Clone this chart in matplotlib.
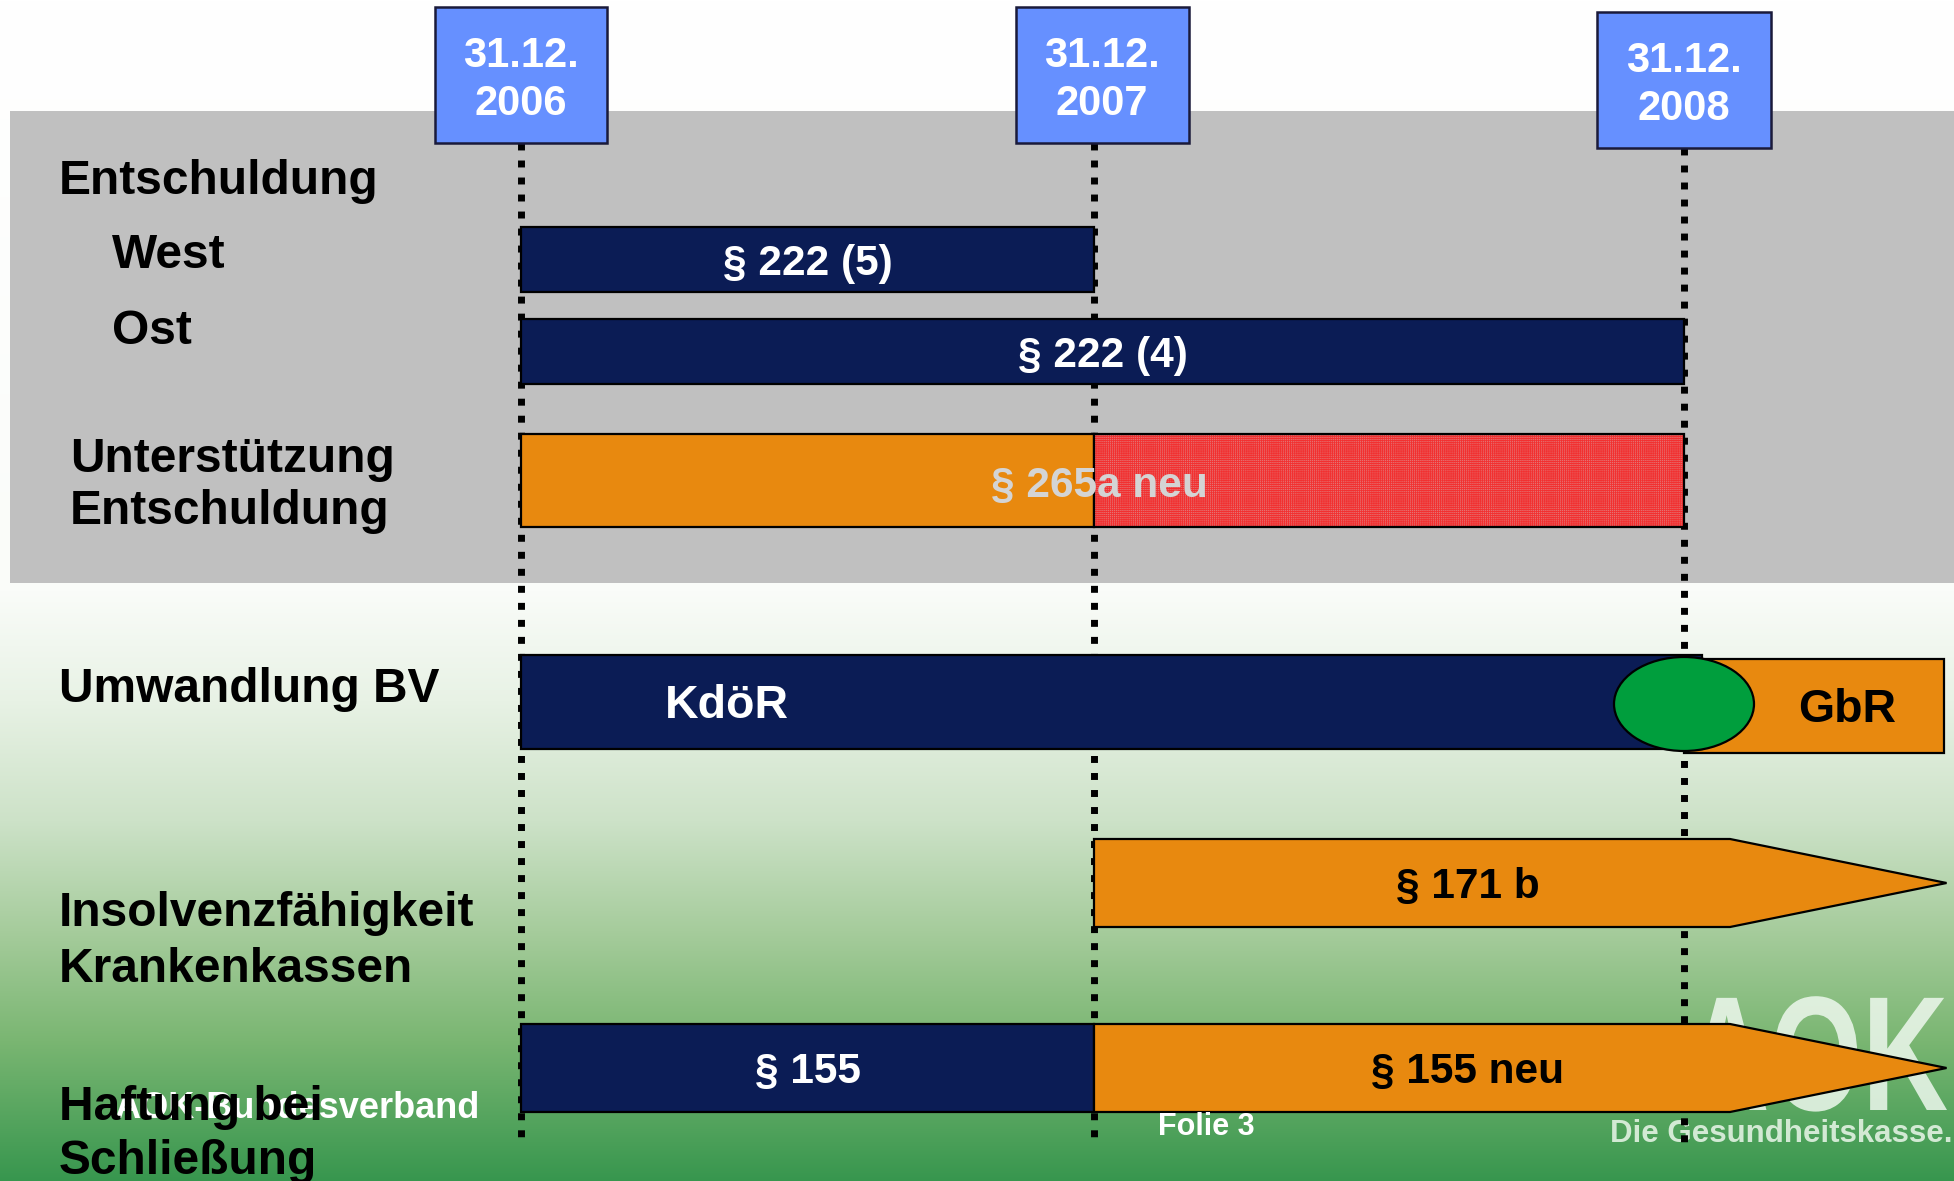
"""Timeline slide: Entschuldung / Umwandlung / Insolvenzfaehigkeit / Haftung."""
import matplotlib
matplotlib.use("Agg")

import numpy as np
import matplotlib.pyplot as plt
from matplotlib.patches import Rectangle, Polygon, Ellipse, PathPatch
from matplotlib.textpath import TextPath
from matplotlib.font_manager import FontProperties
from matplotlib.transforms import Affine2D

# --- data -----------------------------------------------------------------
MILESTONES = [2006, 2007, 2008]
MILESTONE_LABELS = ["31.12.\n2006", "31.12.\n2007", "31.12.\n2008"]

ROW_LABELS = [
    "Entschuldung", "West", "Ost", "Unterstützung\nEntschuldung",
    "Umwandlung BV", "Insolvenzfähigkeit\nKrankenkassen", "Haftung bei\nSchließung",
]

# bar segments (one entry per segment)
SEG_ROW = ["West", "Ost", "Unterst", "Unterst", "BV", "BV", "Insolvenz", "Haftung", "Haftung"]
SEG_START = [2006, 2006, 2006, 2007, 2006, 2008, 2007, 2006, 2007]
SEG_END = [2007, 2008, 2007, 2008, 2008.03, 2008.44, 2008.445, 2007, 2008.445]
SEG_KIND = ["navy", "navy", "orange", "hatch", "navy", "orange", "arrow", "navy", "arrow"]
SEG_TEXT = ["§ 222 (5)", "§ 222 (4)", "", "", "KdöR", "GbR", "§ 171 b", "§ 155", "§ 155 neu"]
SEG_TEXT_AT = [2006.5, 2007.015, None, None, 2006.36, 2008.276, 2007.634, 2006.5, 2007.634]
SEG_TEXT_COLOR = ["white", "white", None, None, "white", "black", "black", "white", "black"]

TRANSITION_YEAR = 2008   # green marker KdöR -> GbR
ARROW_SHOULDER = 2008.078
OVERLAY_TEXT = "§ 265a neu"
OVERLAY_AT = 2007.01

# --- layout ---------------------------------------------------------------
W, H = 1954, 1181
# where the milestones sit on the slide (pixels); the slide is not evenly spaced
ANCHOR_YEARS = [2004, 2006, 2007, 2008, 2010]
ANCHOR_PX = [521 - 2 * 573, 521, 1094, 1684, 1684 + 2 * 590]
ROW_Y = {  # top, bottom in pixels
    "West": (227, 292), "Ost": (319, 384), "Unterst": (434, 527),
    "BV": (655, 749), "Insolvenz": (839, 927), "Haftung": (1024, 1112),
}
LABEL_POS = [(59, [181]), (112, [256]), (112, [331]), (70, [459, 511]),
             (59, [689]), (59, [913, 970]), (59, [1107, 1161])]
BOX_TOPS = [7, 7, 12]
BOX_SHIFT = [0, 8, 0]
BOX_W, BOX_H = 173, 136
LINE_END = 1143

NAVY = "#0B1C55"
ORANGE = "#E8890F"
BOX_BLUE = "#6690FF"
GRAY = "#C0C0C0"
GREEN = "#009E3D"
FONT = "Liberation Sans"


def fwd(x):
    return np.interp(x, ANCHOR_YEARS, ANCHOR_PX)


def inv(p):
    return np.interp(p, ANCHOR_PX, ANCHOR_YEARS)


fig = plt.figure(figsize=(W / 100, H / 100), dpi=100)
PX = Affine2D().scale(1.0 / W, -1.0 / H).translate(0, 1) + fig.transFigure

# background gradient (white -> green)
bg = fig.add_axes([0, 0, 1, 1], zorder=0)
bg.set_axis_off()
stops_y = [0, 590, 700, 820, 930, 1040, 1181]
stops_c = np.array([[255, 255, 255], [250, 252, 249], [232, 242, 229], [205, 226, 200],
                    [166, 204, 156], [122, 182, 114], [55, 150, 78]]) / 255.0
yy = np.arange(H)
grad = np.stack([np.interp(yy, stops_y, stops_c[:, k]) for k in range(3)], axis=-1)
bg.imshow(grad[:, None, :], extent=(0, 1, 1, 0), aspect="auto")
bg.set_xlim(0, 1)
bg.set_ylim(1, 0)

ax = fig.add_axes([0, 0, 1, 1], zorder=1)
ax.patch.set_alpha(0)
ax.set_xscale("function", functions=(fwd, inv))
ax.set_xlim(inv(0), inv(W))
ax.set_ylim(H, 0)
ax.set_axis_off()

ax.add_patch(Rectangle((10, 111), W - 10, 472, transform=PX, facecolor=GRAY,
                       edgecolor="none", zorder=1))

# AOK logo (background watermark), letters squeezed horizontally
fp = FontProperties(family=FONT, weight="bold")
logo = TextPath((0, 0), "AOK", size=163, prop=fp)
lw_ = logo.get_extents().x1
logo_tr = Affine2D().scale(0.73, -1.0).translate(1947 - 0.73 * lw_, 1110) + PX
ax.add_patch(PathPatch(logo, transform=logo_tr, facecolor="#EEF8EE", edgecolor="none",
                       alpha=0.85, zorder=2))
ax.text(1952, 1134, "Die Gesundheitskasse.", transform=PX, ha="right", va="center",
        fontsize=22.5, fontweight="bold", family=FONT, color="#E2F2E2", alpha=0.9, zorder=2)

# milestone lines and date boxes
for m, lab, top, dx in zip(MILESTONES, MILESTONE_LABELS, BOX_TOPS, BOX_SHIFT):
    ax.plot([m, m], [top + BOX_H, LINE_END], color="black", lw=5,
            linestyle=(0, (1, 1.45)), dash_capstyle="butt", zorder=3)
    cx = fwd(m) + dx
    xl, xr = inv(cx - BOX_W / 2), inv(cx + BOX_W / 2)
    ax.add_patch(Rectangle((xl, top), xr - xl, BOX_H, facecolor=BOX_BLUE,
                           edgecolor="#1A1A3A", lw=1.8, zorder=6))
    l1, l2 = lab.split("\n")
    ax.text(inv(cx), top + 49, l1, ha="center", va="center", fontsize=30,
            fontweight="bold", family=FONT, color="white", zorder=7)
    ax.text(inv(cx), top + 97, l2, ha="center", va="center", fontsize=30,
            fontweight="bold", family=FONT, color="white", zorder=7)

# bars
plt.rcParams["hatch.linewidth"] = 0.6
for row, x0, x1, kind, txt, tx, tc in zip(SEG_ROW, SEG_START, SEG_END, SEG_KIND,
                                          SEG_TEXT, SEG_TEXT_AT, SEG_TEXT_COLOR):
    top, bot = ROW_Y[row]
    if row == "BV" and kind == "orange":
        top, bot = top + 4, bot + 4
    if kind == "arrow":
        mid = (top + bot) / 2
        pts = [(x0, top), (ARROW_SHOULDER, top), (x1, mid), (ARROW_SHOULDER, bot), (x0, bot)]
        ax.add_patch(Polygon(pts, closed=True, facecolor=ORANGE, edgecolor="black",
                             lw=1.6, zorder=4))
    elif kind == "hatch":
        ax.add_patch(Rectangle((x0, top), x1 - x0, bot - top, facecolor="#E57272",
                               edgecolor="#F23030", lw=0, hatch="++++++++", zorder=4))
        ax.add_patch(Rectangle((x0, top), x1 - x0, bot - top, facecolor="none",
                               edgecolor="black", lw=1.6, zorder=4))
    else:
        fc = NAVY if kind == "navy" else ORANGE
        z = 4 if kind == "navy" else 3.9
        ax.add_patch(Rectangle((x0, top), x1 - x0, bot - top, facecolor=fc,
                               edgecolor="black", lw=1.6, zorder=z))
    if txt:
        fs = 33.5 if txt in ("KdöR", "GbR") else 30.5
        ax.text(tx, (top + bot) / 2 + 4, txt, ha="center", va="center", fontsize=fs,
                fontweight="bold", family=FONT, color=tc, zorder=7)

# KdöR -> GbR marker
top, bot = ROW_Y["BV"]
exl, exr = inv(fwd(TRANSITION_YEAR) - 70), inv(fwd(TRANSITION_YEAR) + 70)
ax.add_patch(Ellipse((TRANSITION_YEAR, (top + bot) / 2 + 2), exr - exl, 94,
                     facecolor=GREEN, edgecolor="black", lw=1.6, zorder=5))

top, bot = ROW_Y["Unterst"]
ax.text(OVERLAY_AT, (top + bot) / 2 + 5, OVERLAY_TEXT, ha="center", va="center",
        fontsize=30.5, fontweight="bold", family=FONT, color="#D4D4D4", zorder=7)

# footer
ax.text(114, 1108, "AOK-Bundesverband", transform=PX, ha="left", va="center",
        fontsize=26, fontweight="bold", family=FONT, color="white", zorder=6)
ax.text(1158, 1127, "Folie 3", transform=PX, ha="left", va="center",
        fontsize=22, fontweight="bold", family=FONT, color="white", zorder=6)

# row labels
for lab, (x, ys) in zip(ROW_LABELS, LABEL_POS):
    for line, y in zip(lab.split("\n"), ys):
        ax.text(x, y, line, transform=PX, ha="left", va="center", fontsize=34.5,
                fontweight="bold", family=FONT, color="black", zorder=8)

fig.savefig("out.png", dpi=100, facecolor="white")
